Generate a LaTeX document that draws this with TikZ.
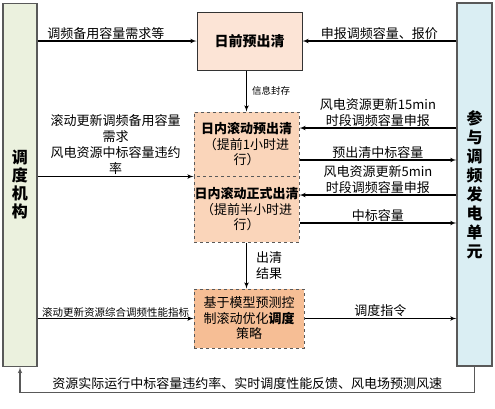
\documentclass[tikz,border=0pt]{standalone}
\usepackage{fontspec}
\setmainfont{Noto Sans CJK SC}
\usetikzlibrary{arrows}

\definecolor{dispatchfill}{HTML}{EBF1DE}
\definecolor{unitfill}{HTML}{DAEEF3}
\definecolor{dayfill}{HTML}{FCE4D6}
\definecolor{rollfill}{HTML}{FAD5BA}
\definecolor{mpcfill}{HTML}{F6BE95}
\definecolor{edgegray}{HTML}{595959}

\begin{document}
\begin{tikzpicture}[x=1pt,y=-1pt,->,>=latex',line width=1.1pt,
  side node/.style={draw=edgegray,line width=1.2pt,minimum width=34pt,minimum height=363pt,
    inner sep=0pt,align=center,font=\bfseries\fontsize{16}{18}\selectfont},
  stage node/.style={draw=black!80,line width=1pt,minimum width=105pt,inner sep=0pt,
    align=center,font=\fontsize{13}{15.5}\selectfont},
  label node/.style={font=\fontsize{13}{16}\selectfont,align=center,inner sep=1pt}]

  \useasboundingbox (0,0) rectangle (495,408);

  \node[side node,fill=dispatchfill] (dispatch) at (20,185) {调\\度\\机\\构};
  \node[side node,fill=unitfill,minimum width=35pt,
    font=\bfseries\fontsize{16}{19}\selectfont] (units) at (474.5,184.5)
    {参\\与\\调\\频\\发\\电\\单\\元};

  \node[stage node,fill=dayfill,minimum height=58pt,
    font=\bfseries\fontsize{14}{16}\selectfont] (dayahead) at (249.5,41) {日前预出清};
  \node[stage node,dashed,draw=edgegray,fill=rollfill,minimum height=64pt] (prerun) at (246.5,144)
    {{\bfseries 日内滚动预出清}\\（提前1小时进\\行）};
  \node[stage node,dashed,draw=edgegray,fill=rollfill,minimum height=66pt] (formal) at (246.5,209)
    {{\bfseries 日内滚动正式出清}\\（提前半小时进\\行）};
  \node[stage node,dashed,draw=edgegray,fill=mpcfill,minimum width=110pt,minimum height=59pt]
    (mpc) at (249,318.5) {基于模型预测控\\制滚动优化\textbf{调度}\\策略};

  \coordinate (preIn) at ([yshift=16pt]prerun.east);
  \coordinate (preOut) at ([yshift=-16pt]prerun.east);
  \coordinate (formalIn) at ([yshift=14pt]formal.east);
  \coordinate (formalOut) at ([yshift=-14pt]formal.east);
  \coordinate (fbturn) at ([yshift=-26pt]units.south);

  \path[every node/.style={label node}]
  (dispatch.east |- dayahead.west) edge node[above,pos=0.43] {调频备用容量需求等} (dayahead.west)
  (units.west |- dayahead.east) edge node[above] {申报调频容量、报价} (dayahead.east)
  (prerun.north |- dayahead.south) edge node[right,xshift=4pt,font=\fontsize{9.5}{11}\selectfont] {信息封存} (prerun.north)
  (dispatch.east |- prerun.south west) edge node[above]
    {滚动更新调频备用容量\\需求\\风电资源中标容量违约\\率} (prerun.south west)
  (units.west |- preIn) edge node[above,inner sep=0.5pt] {风电资源更新15min\\时段调频容量申报} (preIn)
  (preOut) edge node[above] {预出清中标容量} (units.west |- preOut)
  (units.west |- formalIn) edge node[above,inner sep=0.5pt] {风电资源更新5min\\时段调频容量申报} (formalIn)
  (formalOut) edge node[above] {中标容量} (units.west |- formalOut)
  (formal.south) edge node[right,xshift=8pt] {出清\\结果} (formal.south |- mpc.north)
  (dispatch.east |- mpc.west) edge node[above,font=\fontsize{10.5}{12}\selectfont] {滚动更新资源综合调频性能指标} (mpc.west)
  (mpc.east) edge node[above] {调度指令} (units.west |- mpc.east);

  \draw[draw=edgegray] (units.south) -- (fbturn) -| node[label node,above,pos=0.25,inner sep=2pt]
    {资源实际运行中标容量违约率、实时调度性能反馈、风电场预测风速} (dispatch.south);
\end{tikzpicture}
\end{document}
